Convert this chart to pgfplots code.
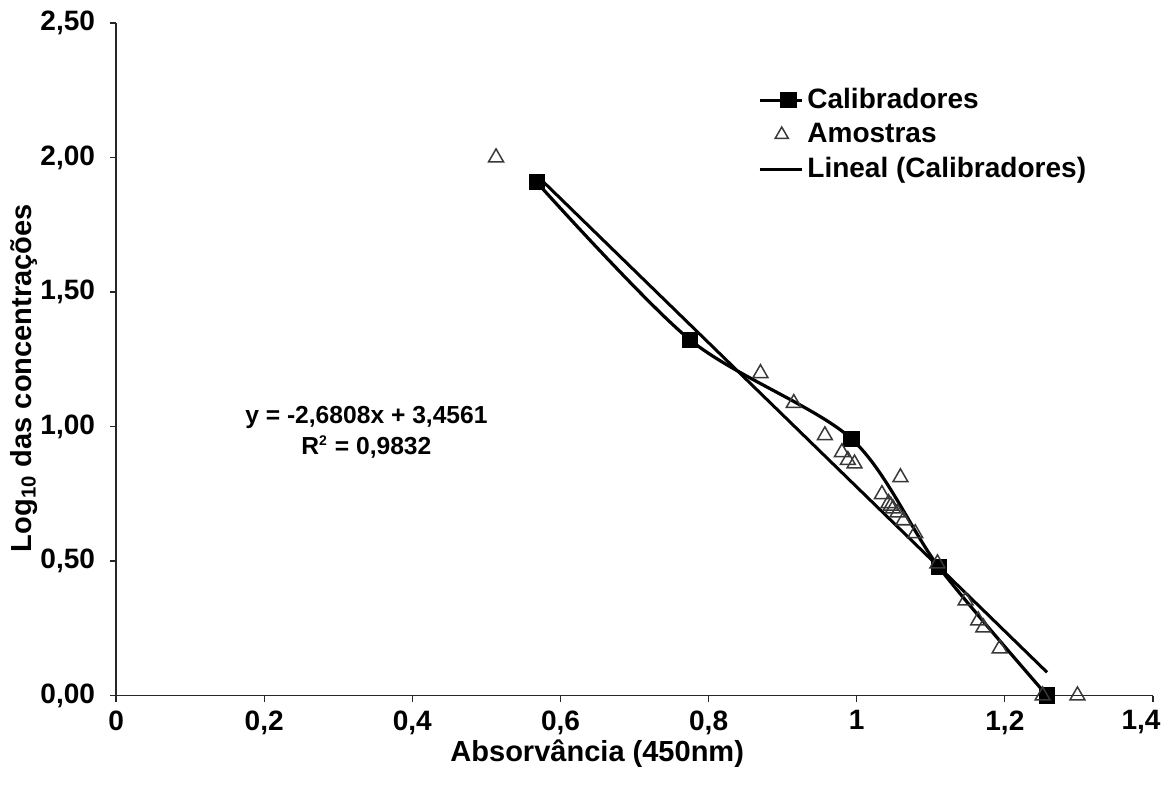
\documentclass[border=0pt]{standalone}
\usepackage{fontspec}
\setmainfont{Liberation Sans}
\usepackage{pgfplots}
\pgfplotsset{compat=1.18}
\begin{document}
\begin{tikzpicture}
\begin{axis}[
  name=ax,
  scale only axis, width=518pt, height=336pt,
  xmin=0, xmax=1.4, ymin=0, ymax=2.5,
  axis x line=bottom, axis y line=left,
  axis line style={-, line width=0.6pt, color=black!85},
  xtick={0,0.2,0.4,0.6,0.8,1,1.2,1.4},
  xticklabels={0,{0,2},{0,4},{0,6},{0,8},1,{1,2},{\hspace*{-12pt}1,4}},
  ytick={0,0.5,1,1.5,2,2.5},
  yticklabels={{0,00},{0,50},{1,00},{1,50},{2,00},{2,50}},
  tick align=outside, major tick length=3pt,
  tick style={line width=0.6pt, color=black!85},
  ticklabel style={font=\fontsize{14}{16}\selectfont\bfseries},
  xticklabel style={yshift=-1pt},
  yticklabel style={xshift=-4pt},
  xlabel={Absorvância (450nm)},
  ylabel={Log\textsubscript{10} das concentrações},
  label style={font=\fontsize{14.5}{17}\selectfont\bfseries},
  xlabel style={at={(axis description cs:0.464,-0.055)}, anchor=north},
  ylabel style={at={(axis description cs:-0.089,0.472)}, anchor=center},
  clip=false,
  legend style={at={(0.613,0.915)}, anchor=north west, draw=none, fill=none,
    font=\fontsize{14}{16}\selectfont\bfseries, row sep=1.8pt,
    cells={anchor=west}},
]
\addplot[black, line width=1.6pt, smooth, tension=0.5, mark=square*, mark size=3.3pt,
  mark options={solid, fill=black},
  legend image code/.code={\draw[black, line width=1.6pt] (0pt,0pt) -- (21pt,0pt);
    \fill[black] (11pt,-3.3pt) rectangle (17.6pt,3.3pt);}]
  coordinates {(0.568,1.908) (0.775,1.322) (0.993,0.954) (1.111,0.477) (1.257,0.0)};
\addlegendentry{Calibradores}
\addplot[only marks, mark=triangle, mark size=4.3pt,
  mark options={draw=black!78, fill=white, line width=0.75pt},
  legend image code/.code={\draw[black!78, line width=0.75pt, fill=white] plot[mark=triangle, mark size=3.8pt] coordinates {(11pt,0pt)};}]
  coordinates {
  (0.513,2.000) (0.870,1.198) (0.915,1.087) (0.957,0.967) (0.980,0.904)
  (0.988,0.875) (0.997,0.862) (1.034,0.748) (1.043,0.715) (1.046,0.705)
  (1.049,0.695) (1.059,0.811) (1.055,0.680) (1.063,0.651) (1.079,0.603)
  (1.109,0.491) (1.147,0.353) (1.164,0.279) (1.171,0.253) (1.193,0.175)
  (1.251,0.000) (1.298,0.000)};
\addlegendentry{Amostras}
\addplot[black, line width=1.5pt, no marks,
  legend image code/.code={\draw[black, line width=1.5pt] (0pt,0pt) -- (21pt,0pt);}]
  coordinates {(0.568,1.9334) (1.257,0.0864)};
\addlegendentry{Lineal (Calibradores)}
\node[align=center, font=\fontsize{12.3}{15.5}\selectfont\bfseries] at (axis cs:0.338,0.98)
  {y = -2,6808x + 3,4561\\R\textsuperscript{\scriptsize 2} = 0,9832};
\end{axis}
\pgfresetboundingbox
\path ([shift={(-58pt,-47pt)}]ax.south west) rectangle ([shift={(9pt,11.5pt)}]ax.north east);
\end{tikzpicture}
\end{document}
